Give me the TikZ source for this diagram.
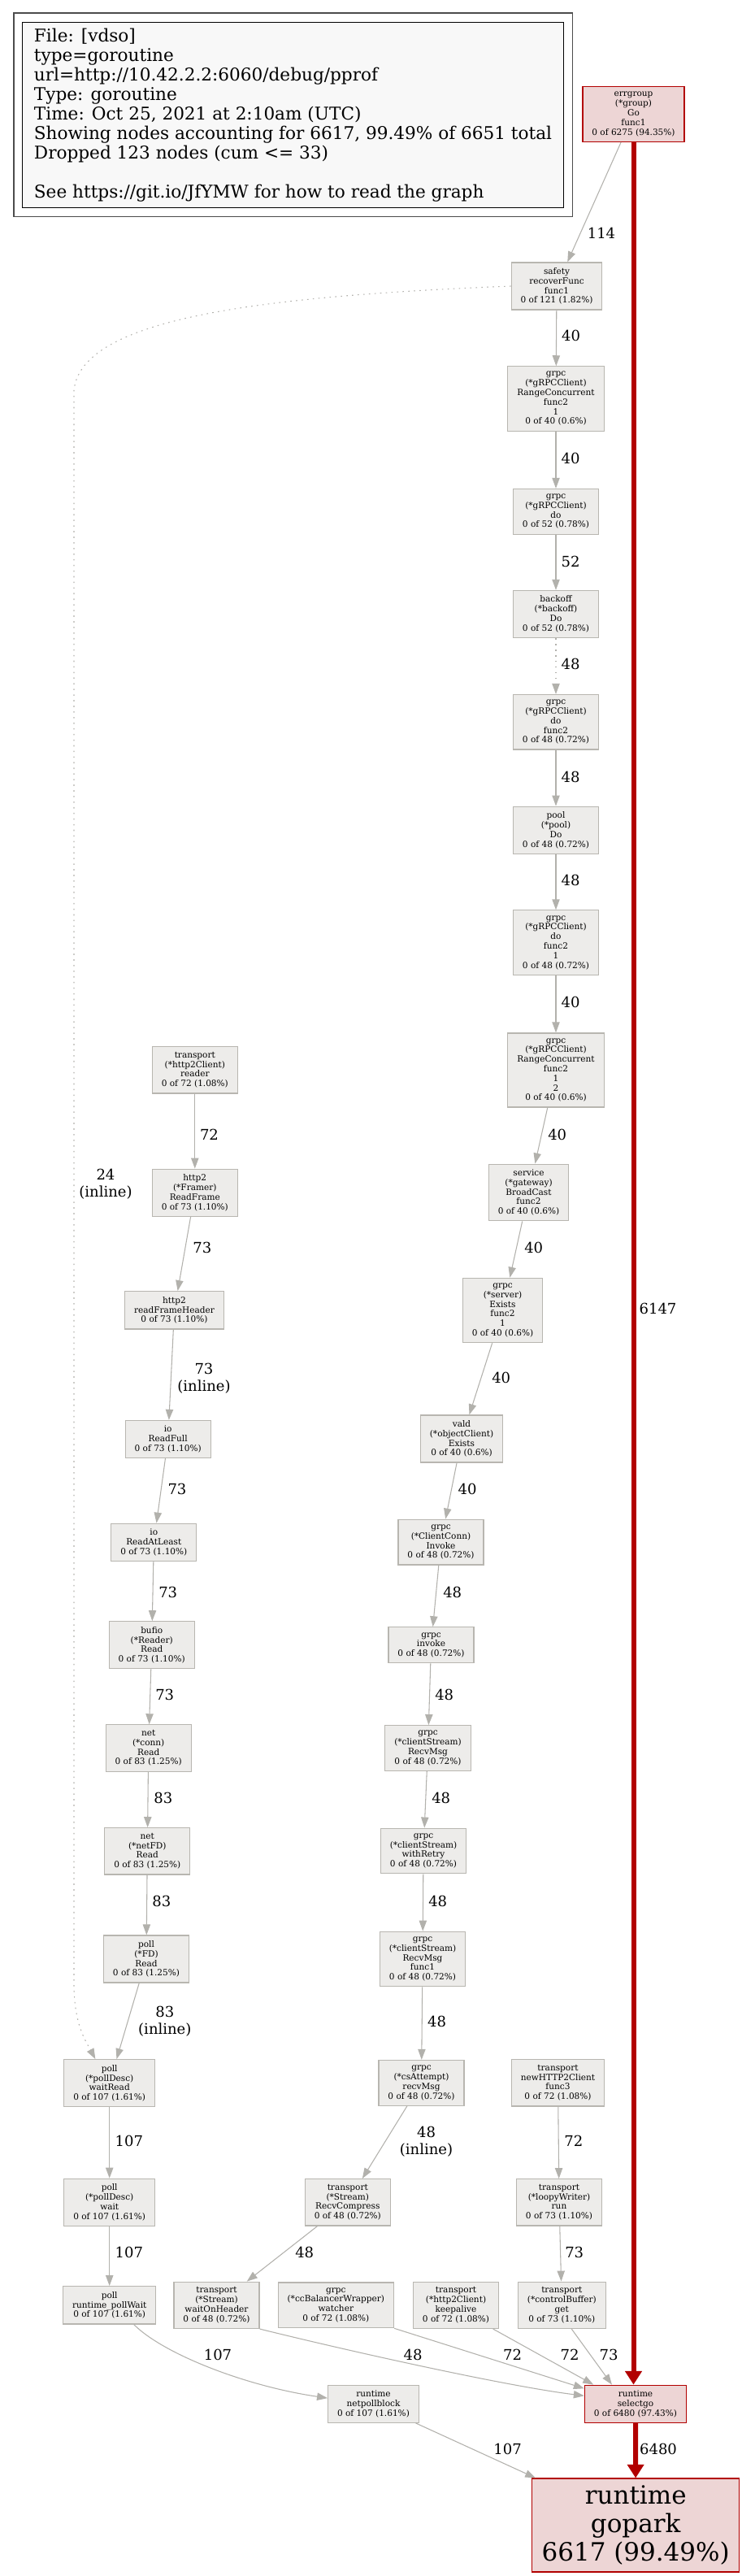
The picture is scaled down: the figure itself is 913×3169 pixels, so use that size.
\documentclass[tikz,border=0pt]{standalone}
\usepackage{fontspec}
\setmainfont{DejaVu Serif}
\usetikzlibrary{arrows.meta,calc,fit}

\definecolor{nodeline}{HTML}{B8B6B0}
\definecolor{nodefill}{HTML}{EDECEA}
\definecolor{edgegrey}{HTML}{B2B1AC}
\definecolor{hotline}{HTML}{B20000}
\definecolor{hotfill}{HTML}{EDD5D5}
\definecolor{legendfill}{HTML}{F8F8F8}

\newcommand{\fnfont}{\fontsize{7.9pt}{8.85pt}\selectfont}
\newcommand{\edgefont}{\fontsize{13.5pt}{15.75pt}\selectfont}
\newcommand{\legendfont}{\fontsize{16.2pt}{18pt}\selectfont}
\newcommand{\bigfont}{\fontsize{23.25pt}{26.25pt}\selectfont}

\tikzset{every picture/.style={line width=0.75pt}}
\tikzset{
  fn/.style={draw=nodeline, fill=nodefill, line width=0.9pt, align=center, font=\fnfont, inner xsep=8.6pt, inner ysep=4.9pt},
  hot/.style={fn, draw=hotline, fill=hotfill},
  edge/.style={draw=edgegrey, line width=0.8pt, -{Triangle[length=9.75pt,width=7pt]}},
  dotedge/.style={edge, dash pattern=on 1.2pt off 4pt},
  hotedge/.style={draw=hotline, line width=4.5pt, -{Triangle[length=12.5pt,width=15pt]}},
  lab/.style={font=\edgefont, align=center, inner sep=0pt},
  legendbox/.style={draw=black, fill=legendfill, line width=0.75pt, align=left, font=\legendfont, inner xsep=7.9pt}
}

\begin{document}
\begin{tikzpicture}[x=0.75pt,y=0.75pt,yscale=-1,xscale=1]
        \useasboundingbox (0,0) rectangle (913,3169);

        %Legend
        \node[legendbox, anchor=north west, minimum width=499pt, minimum height=171pt] (legend) at (27.4,26.7) {File: [vdso]\\type=goroutine\\url=http://10.42.2.2:6060/debug/pprof\\Type: goroutine\\Time: Oct 25, 2021 at 2:10am (UTC)\\Showing nodes accounting for 6617, 99.49\% of 6651 total\\Dropped 123 nodes (cum <= 33)\\[18pt]See https://git.io/JfYMW for how to read the graph};
        \node[draw=black!70, line width=1.1pt, fit=(legend), inner sep=7.9pt] (legendframe) {};

        %Nodes: right column
        \node[hot] (errgroup) at (779.5,140.5) {errgroup\\(*group)\\Go\\func1\\0 of 6275 (94.35\%)};
        \node[fn] (safety) at (685,352) {safety\\recoverFunc\\func1\\0 of 121 (1.82\%)};
        \node[fn] (rc1) at (684,490.5) {grpc\\(*gRPCClient)\\RangeConcurrent\\func2\\1\\0 of 40 (0.6\%)};
        \node[fn] (do) at (684,629.3) {grpc\\(*gRPCClient)\\do\\0 of 52 (0.78\%)};
        \node[fn] (backoff) at (684,755.5) {backoff\\(*backoff)\\Do\\0 of 52 (0.78\%)};
        \node[fn] (dofunc2) at (684,888.3) {grpc\\(*gRPCClient)\\do\\func2\\0 of 48 (0.72\%)};
        \node[fn] (pool) at (684,1021.2) {pool\\(*pool)\\Do\\0 of 48 (0.72\%)};
        \node[fn] (dofunc21) at (684,1159.5) {grpc\\(*gRPCClient)\\do\\func2\\1\\0 of 48 (0.72\%)};
        \node[fn] (rc12) at (684,1316.5) {grpc\\(*gRPCClient)\\RangeConcurrent\\func2\\1\\2\\0 of 40 (0.6\%)};
        \node[fn] (service) at (650.5,1467) {service\\(*gateway)\\BroadCast\\func2\\0 of 40 (0.6\%)};
        \node[fn] (exists) at (618.5,1612) {grpc\\(*server)\\Exists\\func2\\1\\0 of 40 (0.6\%)};
        \node[fn] (vald) at (568,1770) {vald\\(*objectClient)\\Exists\\0 of 40 (0.6\%)};
        \node[fn] (ccinvoke) at (542.5,1897.1) {grpc\\(*ClientConn)\\Invoke\\0 of 48 (0.72\%)};
        \node[fn] (grpcinvoke) at (530.5,2023.8) {grpc\\invoke\\0 of 48 (0.72\%)};
        \node[fn] (recvmsg) at (526.5,2150.5) {grpc\\(*clientStream)\\RecvMsg\\0 of 48 (0.72\%)};
        \node[fn] (withretry) at (521,2277) {grpc\\(*clientStream)\\withRetry\\0 of 48 (0.72\%)};
        \node[fn] (recvfunc1) at (520,2410) {grpc\\(*clientStream)\\RecvMsg\\func1\\0 of 48 (0.72\%)};
        \node[fn] (csattempt) at (518.5,2562.3) {grpc\\(*csAttempt)\\recvMsg\\0 of 48 (0.72\%)};
        \node[fn] (newclient) at (686.5,2562.3) {transport\\newHTTP2Client\\func3\\0 of 72 (1.08\%)};
        \node[fn] (recvcompress) at (427.8,2709.3) {transport\\(*Stream)\\RecvCompress\\0 of 48 (0.72\%)};
        \node[fn] (loopy) at (688,2709.3) {transport\\(*loopyWriter)\\run\\0 of 73 (1.10\%)};
        \node[fn] (waitonheader) at (266.5,2835.8) {transport\\(*Stream)\\waitOnHeader\\0 of 48 (0.72\%)};
        \node[fn] (watcher) at (413.3,2835.8) {grpc\\(*ccBalancerWrapper)\\watcher\\0 of 72 (1.08\%)};
        \node[fn] (keepalive) at (561,2835.8) {transport\\(*http2Client)\\keepalive\\0 of 72 (1.08\%)};
        \node[fn] (cbget) at (691.3,2835.8) {transport\\(*controlBuffer)\\get\\0 of 73 (1.10\%)};
        \node[hot] (selectgo) at (782,2957.2) {runtime\\selectgo\\0 of 6480 (97.43\%)};
        \node[fn] (netpollblock) at (459.5,2957.2) {runtime\\netpollblock\\0 of 107 (1.61\%)};
        \node[hot, font=\bigfont, inner xsep=9pt, inner ysep=6.5pt] (gopark) at (782.2,3106.5) {runtime\\gopark\\6617 (99.49\%)};

        %Nodes: left column
        \node[fn] (reader) at (239.8,1316.3) {transport\\(*http2Client)\\reader\\0 of 72 (1.08\%)};
        \node[fn] (readframe) at (239.8,1467.2) {http2\\(*Framer)\\ReadFrame\\0 of 73 (1.10\%)};
        \node[fn] (framehdr) at (214.5,1611.8) {http2\\readFrameHeader\\0 of 73 (1.10\%)};
        \node[fn] (readfull) at (206.7,1770.5) {io\\ReadFull\\0 of 73 (1.10\%)};
        \node[fn] (readatleast) at (189.3,1897.3) {io\\ReadAtLeast\\0 of 73 (1.10\%)};
        \node[fn] (bufio) at (186.7,2023.8) {bufio\\(*Reader)\\Read\\0 of 73 (1.10\%)};
        \node[fn] (connread) at (182.7,2150.5) {net\\(*conn)\\Read\\0 of 83 (1.25\%)};
        \node[fn] (netfd) at (181.3,2277.3) {net\\(*netFD)\\Read\\0 of 83 (1.25\%)};
        \node[fn] (fdread) at (180,2410) {poll\\(*FD)\\Read\\0 of 83 (1.25\%)};
        \node[fn] (waitread) at (134.7,2562.7) {poll\\(*pollDesc)\\waitRead\\0 of 107 (1.61\%)};
        \node[fn] (pdwait) at (134.7,2709.3) {poll\\(*pollDesc)\\wait\\0 of 107 (1.61\%)};
        \node[fn] (pollwait) at (134.7,2835.8) {poll\\runtime\_pollWait\\0 of 107 (1.61\%)};

        %Hot path
        \draw[hotedge] (errgroup.south) -- (errgroup.south |- selectgo.north) node[lab] at (809.5,1610) {6147};
        \draw[hotedge] (selectgo) -- (gopark) node[lab] at (810,3013) {6480};

        %Edges: right column
        \draw[edge] (errgroup) -- (safety) node[lab] at (740,287) {114};
        \draw[edge] (safety) -- (rc1) node[lab] at (702.5,413.3) {40};
        \draw[edge] (rc1) -- (do) node[lab] at (702,564) {40};
        \draw[edge] (do) -- (backoff) node[lab] at (702,690.7) {52};
        \draw[dotedge] (backoff) -- (dofunc2) node[lab] at (702,817.3) {48};
        \draw[edge] (dofunc2) -- (pool) node[lab] at (702,956) {48};
        \draw[edge] (pool) -- (dofunc21) node[lab] at (702,1082.7) {48};
        \draw[edge] (dofunc21) -- (rc12) node[lab] at (702,1232.7) {40};
        \draw[edge] (rc12) -- (service) node[lab] at (685.7,1396) {40};
        \draw[edge] (service) -- (exists) node[lab] at (656.7,1535) {40};
        \draw[edge] (exists) -- (vald) node[lab] at (616.7,1695) {40};
        \draw[edge] (vald) -- (ccinvoke) node[lab] at (575,1832) {40};
        \draw[edge] (ccinvoke) -- (grpcinvoke) node[lab] at (556.7,1959) {48};
        \draw[edge] (grpcinvoke) -- (recvmsg) node[lab] at (546.7,2085) {48};
        \draw[edge] (recvmsg) -- (withretry) node[lab] at (542.7,2211.8) {48};
        \draw[edge] (withretry) -- (recvfunc1) node[lab] at (538.7,2339) {48};
        \draw[edge] (recvfunc1) -- (csattempt) node[lab] at (537.5,2486.7) {48};
        \draw[edge] (csattempt) -- (recvcompress) node[lab] at (524.5,2634.5) {48\\(inline)};
        \draw[edge] (recvcompress) -- (waitonheader) node[lab] at (374.7,2771) {48};
        \draw[edge] (newclient) -- (loopy) node[lab] at (705.8,2634) {72};
        \draw[edge] (loopy) -- (cbget) node[lab] at (706.7,2771) {73};

        %Edges into selectgo and gopark
        \draw[edge] (waitonheader.south east) .. controls (420,2890) and (620,2935) .. ($(selectgo.north west)!0.29!(selectgo.south west)$) node[lab] at (508,2897) {48};
        \draw[edge] (watcher.south east) -- ($(selectgo.north west)!0.1!(selectgo.south west)$) node[lab] at (630.5,2897) {72};
        \draw[edge] ($(keepalive.south west)!0.93!(keepalive.south east)$) -- ($(selectgo.north west)!0.09!(selectgo.north east)$) node[lab] at (701,2897) {72};
        \draw[edge] ($(cbget.south west)!0.61!(cbget.south east)$) -- ($(selectgo.north west)!0.27!(selectgo.north east)$) node[lab] at (749,2897) {73};
        \draw[edge] ($(netpollblock.south west)!0.96!(netpollblock.south east)$) -- ($(gopark.north west)!0.02!(gopark.north east)$) node[lab] at (624.6,3013) {107};
        \draw[edge] ($(pollwait.south west)!0.76!(pollwait.south east)$) .. controls (200,2895) and (300,2935) .. ($(netpollblock.north west)!0.35!(netpollblock.south west)$) node[lab] at (268,2897) {107};

        %Edges: left column
        \draw[edge] (reader) -- (readframe) node[lab] at (257.5,1396) {72};
        \draw[edge] (readframe) -- (framehdr) node[lab] at (248.8,1535) {73};
        \draw[edge] (framehdr) -- (readfull) node[lab] at (251,1695.7) {73\\(inline)};
        \draw[edge] (readfull) -- (readatleast) node[lab] at (218,1832.3) {73};
        \draw[edge] (readatleast) -- (bufio) node[lab] at (206.7,1959.3) {73};
        \draw[edge] (bufio) -- (connread) node[lab] at (202.7,2085) {73};
        \draw[edge] (connread) -- (netfd) node[lab] at (200.8,2212.3) {83};
        \draw[edge] (netfd) -- (fdread) node[lab] at (198.8,2339) {83};
        \draw[edge] (fdread) -- (waitread) node[lab] at (202.8,2487) {83\\(inline)};
        \draw[edge] (waitread) -- (pdwait) node[lab] at (158.8,2634) {107};
        \draw[edge] (pdwait) -- (pollwait) node[lab] at (158.8,2771) {107};

        %Curve Lines: safety -> waitRead
        \draw[dotedge] (safety.west) .. controls (300,365) and (100,395) .. (91,480) -- (91,2440) .. controls (91,2490) and (105,2510) .. ([xshift=-13pt]waitread.north) node[lab] at (130,1457) {24\\(inline)};

\end{tikzpicture}
\end{document}
